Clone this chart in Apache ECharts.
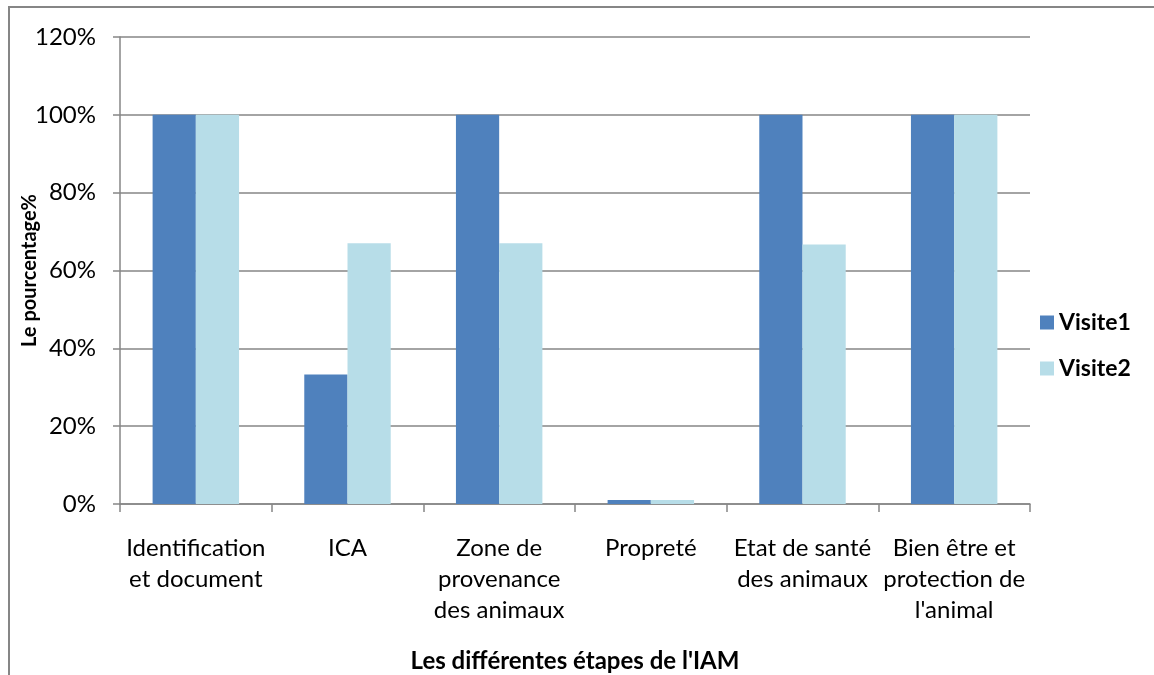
<!DOCTYPE html>
<html>
<head>
<meta charset="utf-8">
<script src="https://cdn.jsdelivr.net/npm/echarts@6/dist/echarts.min.js"></script>
<style>
  html, body { margin: 0; padding: 0; background: #fff; }
  #main { width: 1154px; height: 675px; }
</style>
</head>
<body>
<div id="main"></div>
<script>
// étapes de l'IAM
var categories = [
  'Identification\net document',
  'ICA',
  'Zone de\nprovenance\ndes animaux',
  'Propreté',
  'Etat de santé\ndes animaux',
  'Bien être et\nprotection de\nl\'animal'
];
var visite1 = [100, 33.3, 100, 1, 100, 100];
var visite2 = [100, 67, 67, 1, 66.7, 100];
var yTicks = [0, 20, 40, 60, 80, 100, 120];

var chart = echarts.init(document.getElementById('main'));
var grey = '#868686';
var font = 'Lato, sans-serif';

var option = {
  animation: false,
  textStyle: { fontFamily: font },
  graphic: [
    {
      type: 'polyline',
      shape: { points: [[9, 675], [9, 7], [1154, 7]] },
      style: { stroke: grey, lineWidth: 2, fill: null }
    }
  ],
  legend: {
    orient: 'vertical',
    left: 1035,
    top: 306,
    itemWidth: 14,
    itemHeight: 14,
    itemGap: 23,
    icon: 'rect',
    textStyle: { fontSize: 23, fontWeight: 'bold', color: '#000', fontFamily: font },
    data: ['Visite1', 'Visite2']
  },
  grid: { left: 120, right: 124, top: 37, bottom: 171, outerBoundsMode: 'none', containLabel: false },
  xAxis: {
    type: 'category',
    data: categories,
    name: 'Les différentes étapes de l\'IAM',
    nameLocation: 'middle',
    nameGap: 145,
    nameMoveOverlap: false,
    nameTextStyle: { fontSize: 24, fontWeight: 'bold', color: '#000' },
    axisLine: { lineStyle: { color: grey, width: 1.5 } },
    axisTick: { show: true, length: 8, lineStyle: { color: grey, width: 1.5 } },
    axisLabel: { fontSize: 24, color: '#000', lineHeight: 31, margin: 29, interval: 0 }
  },
  yAxis: {
    type: 'value',
    min: 0,
    max: 120,
    interval: 20,
    name: 'Le pourcentage%',
    nameLocation: 'middle',
    nameRotate: 90,
    nameGap: 80,
    nameMoveOverlap: false,
    nameTextStyle: { fontSize: 20, fontWeight: 'bold', color: '#000' },
    axisLine: { show: true, lineStyle: { color: grey, width: 1.5 } },
    axisTick: { show: true, inside: false, length: 7, lineStyle: { color: grey, width: 1.5 } },
    axisLabel: {
      fontSize: 24, color: '#000', margin: 24,
      formatter: function (v) { return yTicks.indexOf(v) >= 0 ? v + '%' : ''; }
    },
    splitLine: { lineStyle: { color: grey, width: 1.5 } }
  },
  series: [
    {
      name: 'Visite1',
      type: 'bar',
      data: visite1,
      barGap: '0%',
      barCategoryGap: '43%',
      itemStyle: { color: '#4f81bd' }
    },
    {
      name: 'Visite2',
      type: 'bar',
      data: visite2,
      itemStyle: { color: '#b7dde8' }
    }
  ]
};
chart.setOption(option);
</script>
</body>
</html>
